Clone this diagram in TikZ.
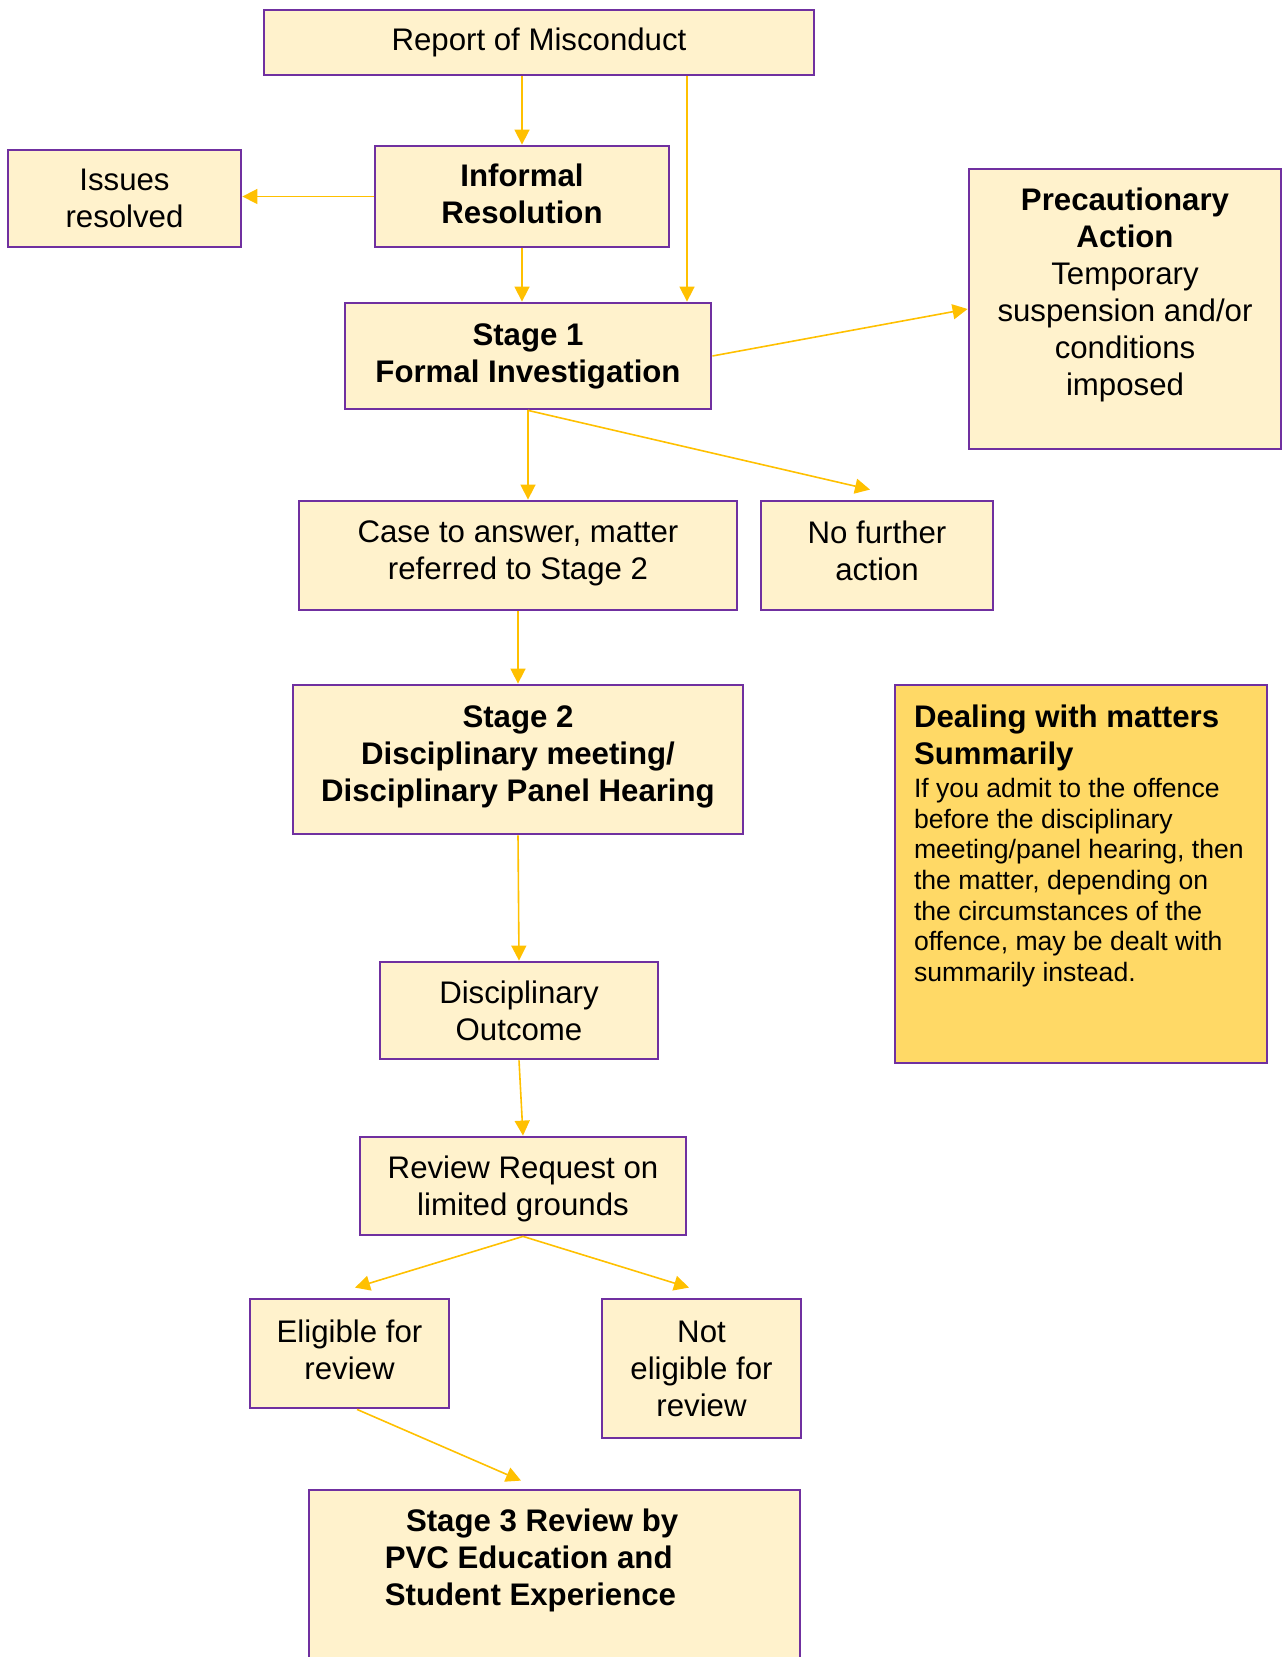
\documentclass[tikz,border=0pt]{standalone}
\usepackage{fontspec}
\setmainfont{Liberation Sans}
\usepackage{xcolor}
\usetikzlibrary{
		calc,
		positioning,
		arrows.meta
	}
\definecolor{cream}{HTML}{FFF2CC}
\definecolor{butter}{HTML}{FFD966}
\definecolor{amber}{HTML}{FFC000}
\definecolor{edgepurple}{HTML}{7030A0}
\tikzset{
		>={Triangle[length=7.5pt,width=7.5pt]}
	}

\begin{document}
\begin{tikzpicture}[x=0.5pt, y=-0.5pt,
	box/.style={draw=edgepurple, line width=1.4pt, fill=cream, align=center, inner sep=0pt, font=\fontsize{15.6}{18.5}\selectfont},
	toptext/.style={inner sep=0pt, font=\fontsize{15.6}{18.5}\selectfont},
	flow/.style={->, amber, line width=0.8pt}]
	\clip (0,0) rectangle (1283,1657); % page = picture
	\node[box, minimum width=275pt, minimum height=32.5pt] (rep) at (539,42.5) {Report of Misconduct};
	\node[box, minimum width=147pt, minimum height=50.5pt, text depth=2.6pt, font=\fontsize{15.6}{18.5}\selectfont\bfseries] (inf) at (522,196.5) {Informal\\Resolution};
	\node[box, minimum width=116.5pt, minimum height=48.5pt] (iss) at (124.5,198.5) {Issues\\resolved};
	\node[box, minimum width=183pt, minimum height=53pt, font=\fontsize{15.6}{18.5}\selectfont\bfseries] (st1) at (528,356) {Stage 1\\Formal Investigation};
	\node[box, minimum width=156pt, minimum height=140pt,
		label={[toptext, anchor=north, yshift=-9.8pt, align=center]north:{\textbf{Precautionary}\\\textbf{Action}\\Temporary\\suspension and/or\\conditions\\imposed}}] (prec) at (1125,309) {};
	\node[box, minimum width=219pt, minimum height=54.5pt, text depth=5.4pt] (case) at (518,555.5) {Case to answer, matter\\referred to Stage 2};
	\node[box, minimum width=116pt, minimum height=54.5pt, text depth=5.3pt] (nfa) at (877,555.5) {No further\\action};
	\node[box, minimum width=225pt, minimum height=74.5pt, text depth=5.4pt, font=\fontsize{15.6}{18.5}\selectfont\bfseries] (st2) at (518,759.5) {Stage 2\\Disciplinary meeting/\\Disciplinary Panel Hearing};
	\node[box, fill=butter, minimum width=186pt, minimum height=189pt,
		label={[toptext, anchor=north west, xshift=10pt, yshift=-10.2pt, text width=175pt, align=flush left]north west:{\bfseries Dealing with matters\\Summarily\endgraf\vspace{1.5pt}\fontsize{13.3}{15.3}\selectfont\mdseries If you admit to the offence\\before the disciplinary\\meeting/panel hearing, then\\the matter, depending on\\the circumstances of the\\offence, may be dealt with\\summarily instead.\endgraf}}] (summ) at (1081,874) {};
	\node[box, minimum width=139pt, minimum height=48.5pt] (out) at (519,1010.5) {Disciplinary\\Outcome};
	\node[box, minimum width=163pt, minimum height=49pt, text depth=-0.9pt] (rev) at (523,1186) {Review Request on\\limited grounds};
	\node[box, minimum width=99.5pt, minimum height=54.5pt, text depth=4.2pt] (elig) at (349.5,1353.5) {Eligible for\\review};
	\node[box, minimum width=99.5pt, minimum height=69.5pt] (nelig) at (701.5,1368.5) {Not\\eligible for\\review};
	\node[box, minimum width=245.5pt, minimum height=105pt,
		label={[toptext, anchor=north west, xshift=38.4pt, yshift=-9.8pt, align=left, font=\fontsize{15.6}{18.5}\selectfont\bfseries]north west:{\hspace*{10.6pt}Stage 3 Review by\\PVC Education and\\Student Experience}}] (st3) at (554.5,1595) {};
	\coordinate (bypass) at (687,0);
	\draw[flow] (rep.south -| inf.north) -- (inf.north);
	\draw[flow] (rep.south -| bypass) -- (st1.north -| bypass); % straight to stage 1
	\draw[flow] (inf.west) -- (inf.west -| iss.east);
	\draw[flow] (inf.south) -- (st1.north -| inf.south);
	\draw[flow] (st1.east) -- (prec.west);
	\draw[flow] (st1.south) -- (st1.south |- case.north);
	\draw[flow] (st1.south) -- ($(nfa.north)+(-7,-10)$);
	\draw[flow] (case.south) -- (st2.north);
	\draw[flow] (st2.south) -- (out.north);
	\draw[flow] (out.south) -- (rev.north);
	\draw[flow] (rev.south) -- ($(elig.north)+(5.5,-10)$);
	\draw[flow] (rev.south) -- ($(nelig.north)+(-12.5,-10)$);
	\draw[flow] ($(elig.south)+(7.5,0)$) -- ($(st3.north)+(-33.5,-8)$);
\end{tikzpicture}
\end{document}
